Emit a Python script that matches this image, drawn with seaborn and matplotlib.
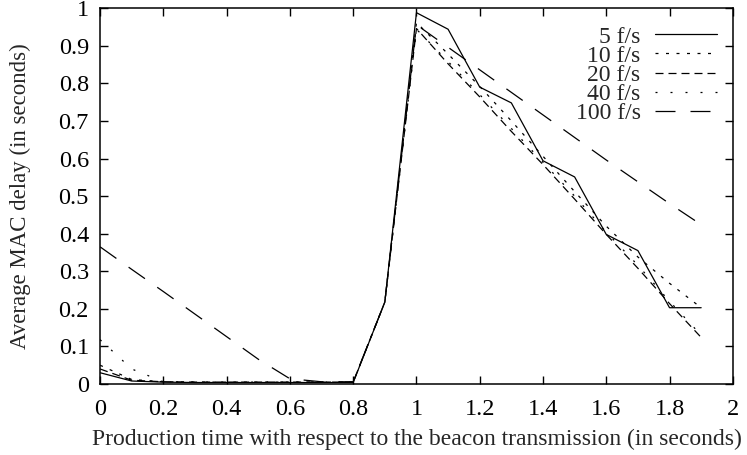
import pandas as pd
import matplotlib
matplotlib.use("Agg")
import matplotlib.pyplot as plt
from matplotlib.ticker import MultipleLocator, FuncFormatter
import seaborn as sns

# production time of the frame (s)
times = [0.0, 0.1, 0.2, 0.3, 0.4, 0.5, 0.6, 0.7, 0.8, 0.9,
         1.0, 1.1, 1.2, 1.3, 1.4, 1.5, 1.6, 1.7, 1.8, 1.9]

# average MAC delay per frame rate (s)
delay_5 = [0.030, 0.008, 0.005, 0.004, 0.004, 0.004, 0.004, 0.004, 0.004, 0.218,
           0.988, 0.944, 0.790, 0.748, 0.594, 0.551, 0.398, 0.355, 0.203, 0.203]
delay_10 = [0.050, 0.012, 0.006, 0.005, 0.005, 0.005, 0.005, 0.005, 0.005, 0.218,
            0.962, 0.878, 0.792, 0.700, 0.606, 0.512, 0.420, 0.338, 0.268, 0.203]
delay_20 = [0.040, 0.010, 0.006, 0.005, 0.005, 0.005, 0.005, 0.005, 0.005, 0.218,
            0.946, 0.852, 0.764, 0.672, 0.584, 0.492, 0.398, 0.308, 0.214, 0.124]
delay_40 = [0.118, 0.040, 0.006, 0.005, 0.005, 0.005, 0.005, 0.005, 0.005, 0.218,
            0.944, 0.858, 0.770, 0.680, 0.590, 0.500, 0.404, 0.316, 0.220, 0.130]
delay_100 = [0.365, 0.305, 0.246, 0.186, 0.126, 0.066, 0.014, 0.006, 0.006, 0.218,
             0.956, 0.896, 0.836, 0.776, 0.716, 0.656, 0.596, 0.538, 0.480, 0.424]

rates = ["5 f/s", "10 f/s", "20 f/s", "40 f/s", "100 f/s"]
series = [delay_5, delay_10, delay_20, delay_40, delay_100]

df = pd.concat(
    [pd.DataFrame({"time": times, "delay": d, "rate": r}) for r, d in zip(rates, series)],
    ignore_index=True,
)

sns.set_style("ticks")
plt.rcParams["font.family"] = ["Liberation Serif", "DejaVu Serif"]

fig = plt.figure(figsize=(7.47, 4.55), dpi=100)
ax = fig.add_axes([0.134, 0.156, 0.847, 0.826])

# gnuplot-like line types (units scale with line width)
dashes = {
    "5 f/s": "",
    "10 f/s": (2.4, 6.0),
    "20 f/s": (6.4, 4.0),
    "40 f/s": (1.6, 10.4),
    "100 f/s": (16.0, 12.0),
}
sns.lineplot(data=df, x="time", y="delay", style="rate", style_order=rates,
             dashes=dashes, color="black", linewidth=0.9, sort=False, ax=ax)

ax.set_xlim(0, 2)
ax.set_ylim(0, 1)
ax.xaxis.set_major_locator(MultipleLocator(0.2))
ax.yaxis.set_major_locator(MultipleLocator(0.1))
fmt = FuncFormatter(lambda v, p: f"{v:.10g}" if abs(v) > 1e-9 else "0")
ax.xaxis.set_major_formatter(fmt)
ax.yaxis.set_major_formatter(fmt)
ax.tick_params(direction="in", top=True, right=True, length=6, width=1,
               labelsize=17.5, colors="black")
ax.tick_params(axis="x", pad=11)
ax.tick_params(axis="y", pad=8)
for s in ax.spines.values():
    s.set_linewidth(1.1)
    s.set_color("black")

ax.set_xlabel("Production time with respect to the beacon transmission (in seconds)",
              fontsize=17, labelpad=6)
ax.set_ylabel("Average MAC delay (in seconds)", fontsize=16.5, labelpad=20)

handles, labels = ax.get_legend_handles_labels()
ax.legend(handles, labels, loc="upper right", bbox_to_anchor=(0.983, 0.965),
          frameon=False, markerfirst=False, fontsize=17, handlelength=2.65,
          labelspacing=-0.1, handletextpad=0.6, borderaxespad=0.0, borderpad=0.2)

fig.savefig("out.png", dpi=100)
